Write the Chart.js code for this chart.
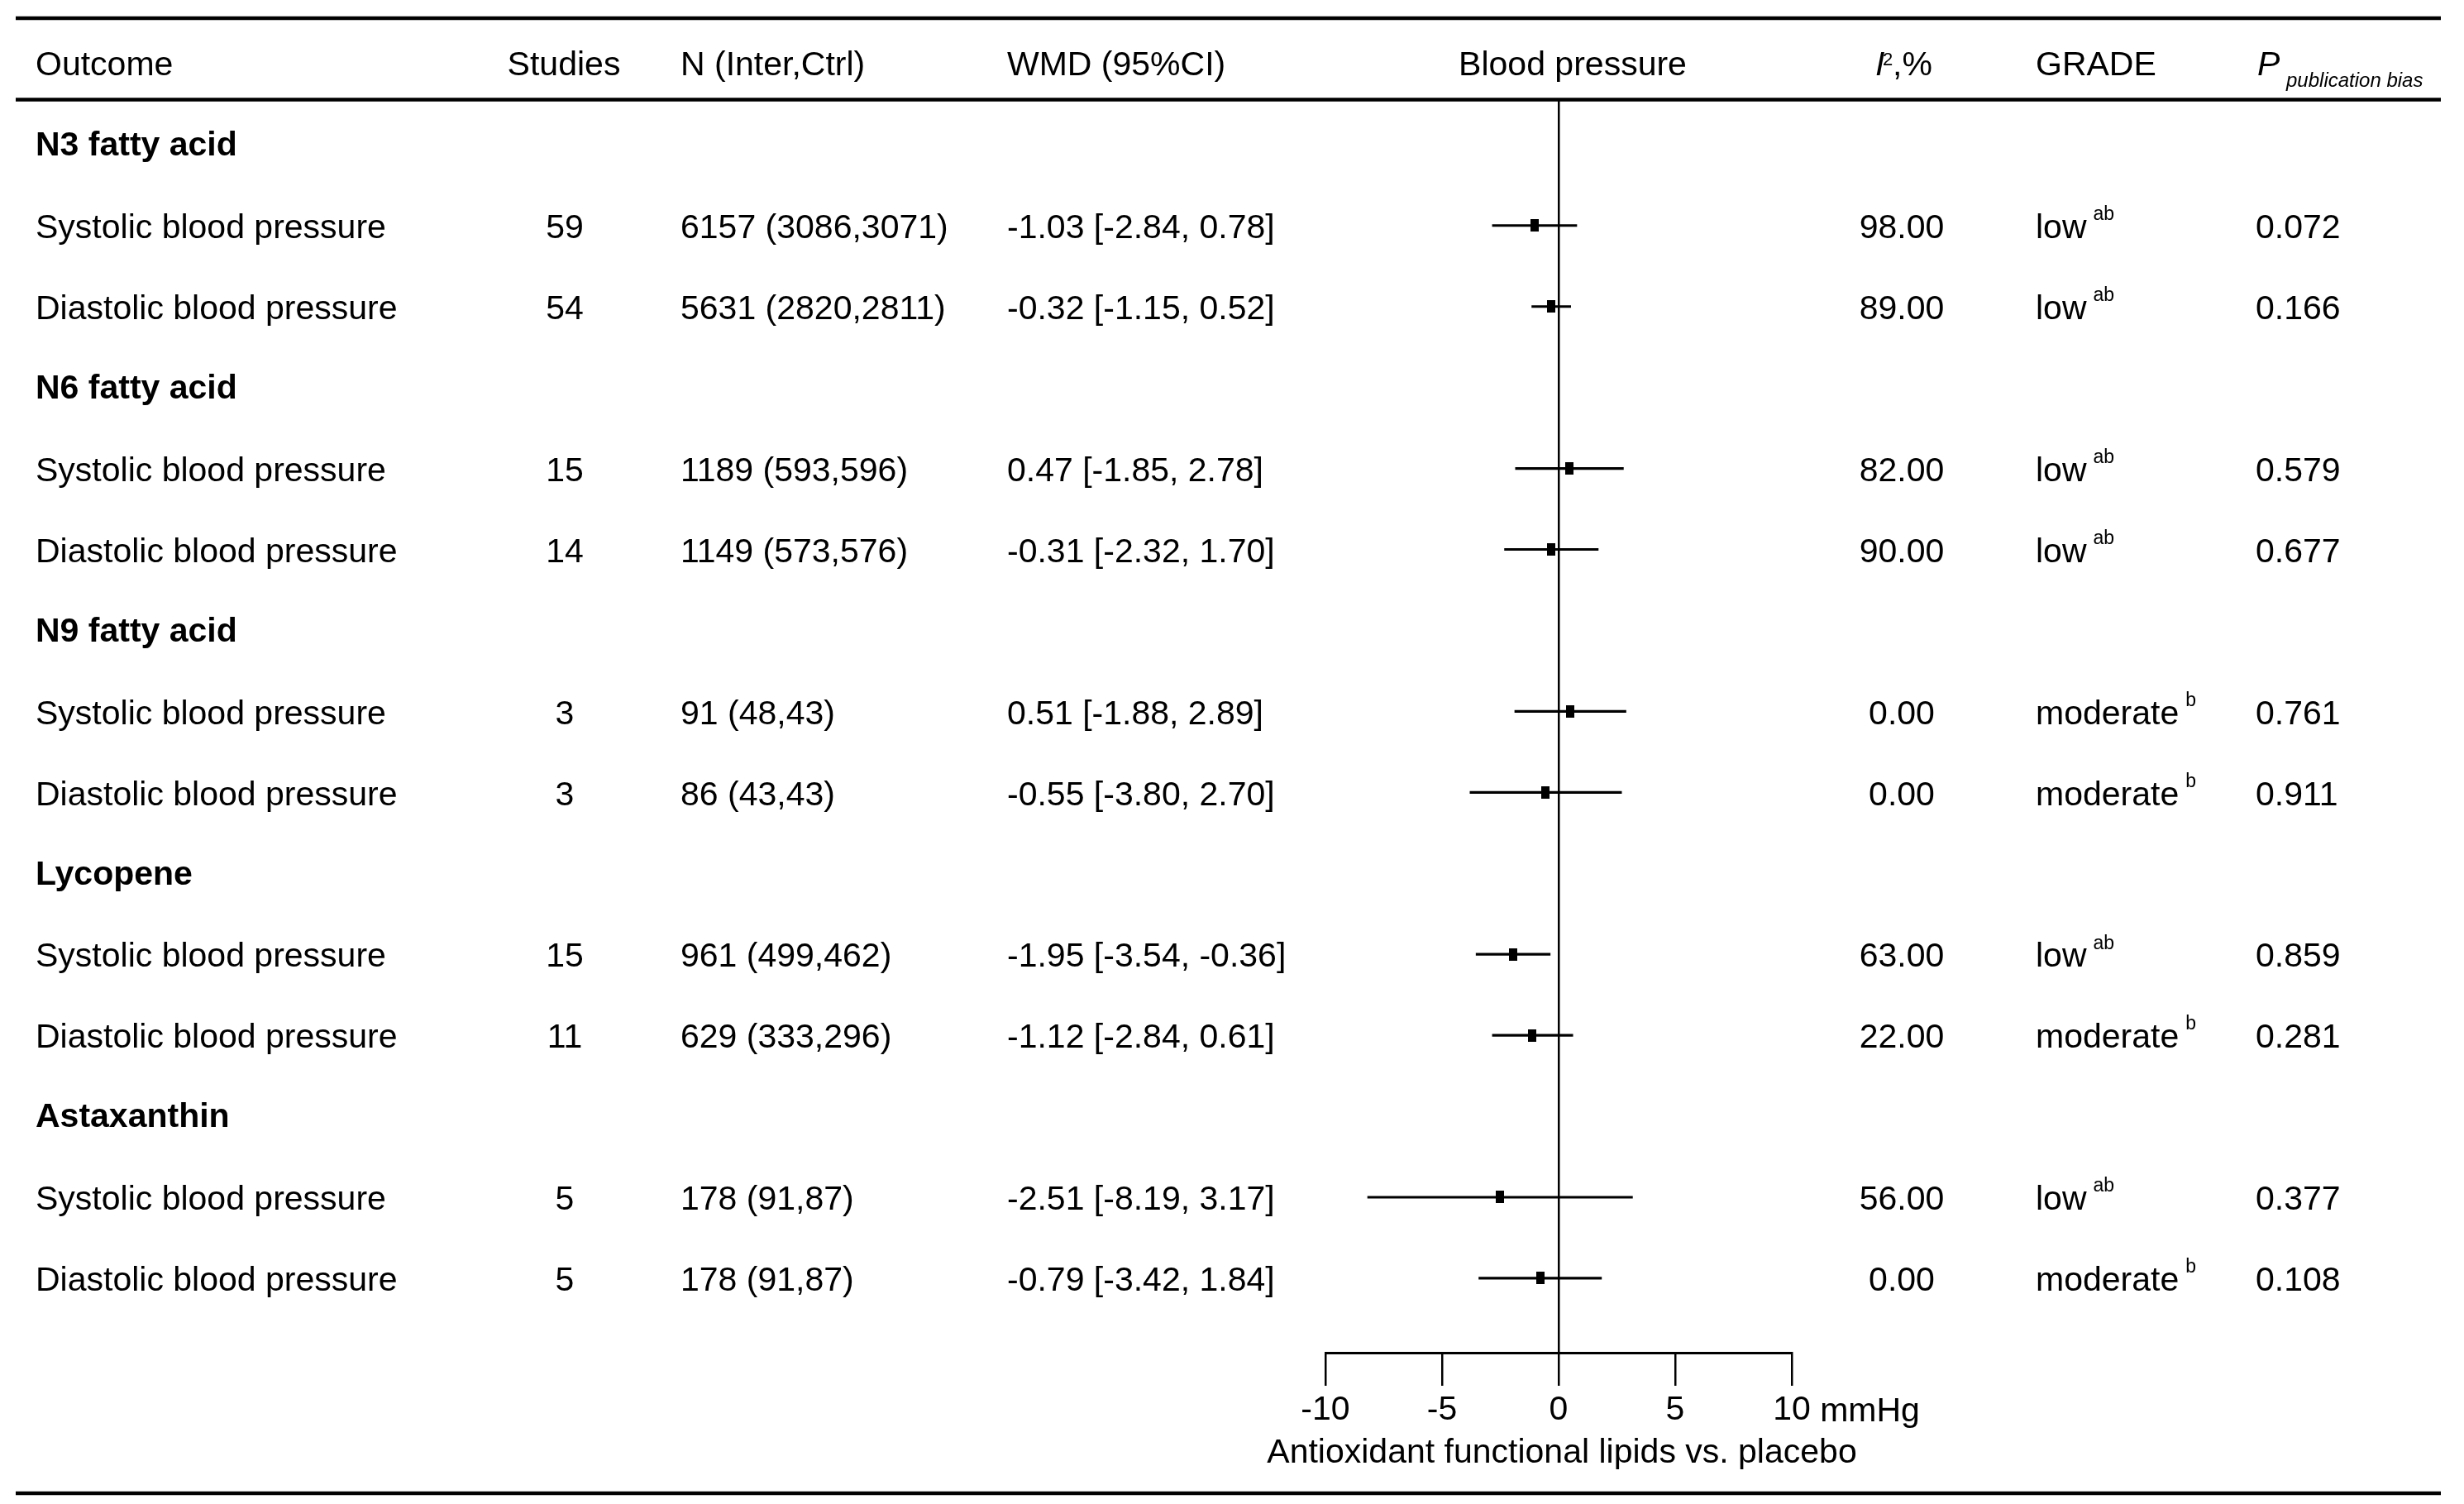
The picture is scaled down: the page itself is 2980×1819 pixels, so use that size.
<!DOCTYPE html>
<html>
<head>
<meta charset="utf-8">
<script src="https://cdn.jsdelivr.net/npm/chart.js@4"></script>
<style>
  html, body { margin: 0; padding: 0; background: #fff; }
  #wrap { width: 2980px; height: 1819px; }
</style>
</head>
<body>
<div id="wrap"><canvas id="forest" width="2980" height="1819"></canvas></div>
<script>
// groups and rows, top to bottom
const groups = ['N3 fatty acid', 'N6 fatty acid', 'N9 fatty acid', 'Lycopene', 'Astaxanthin'];
const outcomes = [
    'Systolic blood pressure', 'Diastolic blood pressure',
    'Systolic blood pressure', 'Diastolic blood pressure',
    'Systolic blood pressure', 'Diastolic blood pressure',
    'Systolic blood pressure', 'Diastolic blood pressure',
    'Systolic blood pressure', 'Diastolic blood pressure'
];
const studies = [59, 54, 15, 14, 3, 3, 15, 11, 5, 5];
const nTotal = [6157, 5631, 1189, 1149, 91, 86, 961, 629, 178, 178];
const nInter = [3086, 2820, 593, 573, 48, 43, 499, 333, 91, 91];
const nCtrl = [3071, 2811, 596, 576, 43, 43, 462, 296, 87, 87];
const wmd = [-1.03, -0.32, 0.47, -0.31, 0.51, -0.55, -1.95, -1.12, -2.51, -0.79];
const lower = [-2.84, -1.15, -1.85, -2.32, -1.88, -3.80, -3.54, -2.84, -8.19, -3.42];
const upper = [0.78, 0.52, 2.78, 1.70, 2.89, 2.70, -0.36, 0.61, 3.17, 1.84];
const i2 = [98, 89, 82, 90, 0, 0, 63, 22, 56, 0];
const grade = ['low', 'low', 'low', 'low', 'moderate', 'moderate', 'low', 'moderate', 'low', 'moderate'];
const gradeNote = ['ab', 'ab', 'ab', 'ab', 'b', 'b', 'ab', 'b', 'ab', 'b'];
const pBias = ['0.072', '0.166', '0.579', '0.677', '0.761', '0.911', '0.859', '0.281', '0.377', '0.108'];
const xTicks = [-10, -5, 0, 5, 10];
const xUnit = 'mmHg';
const xTitle = 'Antioxidant functional lipids vs. placebo';

const FONT = '"Liberation Sans", Arial, Helvetica, sans-serif';
const FS = 41;

// row index on the y scale: each group header takes one row, then its two outcomes
const groupRow = groups.map((g, i) => i * 3);
const dataRow = outcomes.map((o, k) => Math.floor(k / 2) * 3 + 1 + (k % 2));

// the little filled box used for the point estimate
const box = document.createElement('canvas');
box.width = 10;
box.height = 15;
const bctx = box.getContext('2d');
bctx.fillStyle = '#000';
bctx.fillRect(0, 0, 10, 15);

function text(ctx, s, x, y, align, font) {
    ctx.font = font || (FS + 'px ' + FONT);
    ctx.textAlign = align || 'left';
    ctx.textBaseline = 'middle';
    ctx.fillStyle = '#000';
    ctx.fillText(s, x, y);
}

function rule(ctx, y) {
    ctx.save();
    ctx.strokeStyle = '#000';
    ctx.lineWidth = 4.5;
    ctx.beginPath();
    ctx.moveTo(19, y);
    ctx.lineTo(2952, y);
    ctx.stroke();
    ctx.restore();
}

const tablePlugin = {
    id: 'table',
    afterDraw(chart) {
        const ctx = chart.ctx;
        const yS = chart.scales.y;
        const xS = chart.scales.x;
        ctx.save();

        rule(ctx, 22);
        rule(ctx, 120.5);
        rule(ctx, 1806);

        // header
        const hy = 80;
        text(ctx, 'Outcome', 43, hy);
        text(ctx, 'Studies', 682, hy, 'center');
        text(ctx, 'N (Inter,Ctrl)', 823, hy);
        text(ctx, 'WMD (95%CI)', 1218, hy);
        text(ctx, 'Blood pressure', 1902, hy, 'center');
        text(ctx, 'I', 2268, hy, 'left', 'italic ' + FS + 'px ' + FONT);
        text(ctx, '2', 2277, hy - 7, 'left', '22px ' + FONT);
        text(ctx, ',%', 2289, hy);
        text(ctx, 'GRADE', 2462, hy);
        text(ctx, 'P', 2730, hy, 'left', 'italic ' + FS + 'px ' + FONT);
        text(ctx, 'publication bias', 2765, hy + 18, 'left', 'italic 24px ' + FONT);

        groups.forEach((g, i) => {
            text(ctx, g, 43, yS.getPixelForValue(groupRow[i]) + 2, 'left', 'bold ' + FS + 'px ' + FONT);
        });

        outcomes.forEach((o, k) => {
            const y = yS.getPixelForValue(dataRow[k]) + 4;
            text(ctx, o, 43, y);
            text(ctx, String(studies[k]), 683, y, 'center');
            text(ctx, nTotal[k] + ' (' + nInter[k] + ',' + nCtrl[k] + ')', 823, y);
            text(ctx, wmd[k].toFixed(2) + ' [' + lower[k].toFixed(2) + ', ' + upper[k].toFixed(2) + ']', 1218, y);
            text(ctx, i2[k].toFixed(2), 2300, y, 'center');
            text(ctx, grade[k], 2462, y);
            ctx.font = FS + 'px ' + FONT;
            const w = ctx.measureText(grade[k]).width;
            text(ctx, gradeNote[k], 2462 + w + 8, y - 17, 'left', '23px ' + FONT);
            text(ctx, pBias[k], 2728, y);
        });

        // unit after the last tick label, and the axis title
        ctx.font = FS + 'px ' + FONT;
        const last = xTicks[xTicks.length - 1];
        const lw = ctx.measureText(String(last)).width;
        const tickY = xS.top + 40 + 32;
        text(ctx, ' ' + xUnit, xS.getPixelForValue(last) + lw / 2, tickY);
        text(ctx, xTitle, xS.getPixelForValue(0) + 4, 1758, 'center');

        ctx.restore();
    }
};

Chart.defaults.font.family = FONT;
Chart.defaults.color = '#000';

new Chart(document.getElementById('forest'), {
    type: 'scatter',
    data: {
        datasets: [{
            type: 'bar',
            indexAxis: 'y',
            data: outcomes.map((o, k) => ({ x: [lower[k], upper[k]], y: dataRow[k] })),
            backgroundColor: '#000',
            borderWidth: 0,
            barThickness: 2.5
        }, {
            type: 'scatter',
            indexAxis: 'x',
            data: outcomes.map((o, k) => ({ x: wmd[k], y: dataRow[k] })),
            pointStyle: box,
            pointRadius: 7,
            backgroundColor: '#000',
            borderColor: '#000'
        }]
    },
    options: {
        responsive: false,
        animation: false,
        devicePixelRatio: 1,
        layout: { padding: { left: 1603, right: 813, top: 121, bottom: 0 } },
        plugins: { legend: { display: false }, tooltip: { enabled: false } },
        scales: {
            x: {
                type: 'linear',
                min: -10,
                max: 10,
                offset: false,
                afterBuildTicks: s => { s.ticks = xTicks.map(v => ({ value: v })); },
                afterFit: s => { s.height = 183; },
                ticks: { font: { size: FS }, color: '#000', padding: 5, maxRotation: 0, autoSkip: false },
                grid: {
                    offset: false,
                    drawOnChartArea: true,
                    color: c => (c.tick && c.tick.value === 0) ? '#000' : 'rgba(0,0,0,0)',
                    lineWidth: 2.5,
                    tickColor: '#000',
                    tickWidth: 2.5,
                    tickLength: 40
                },
                border: { display: true, color: '#000', width: 3 },
                title: { display: false }
            },
            y: {
                type: 'linear',
                display: false,
                reverse: true,
                offset: false,
                min: -0.55,
                max: 14.92
            }
        }
    },
    plugins: [tablePlugin]
});
</script>
</body>
</html>
